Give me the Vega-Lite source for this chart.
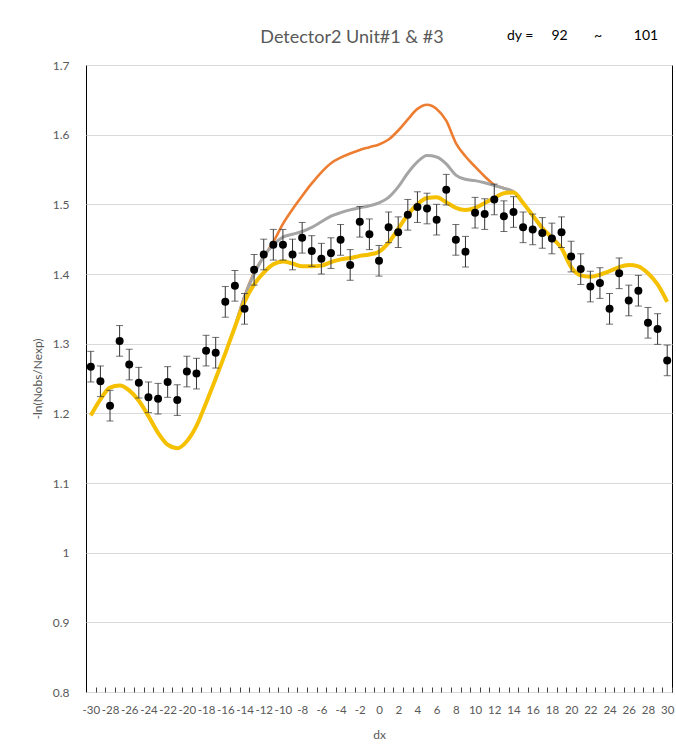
{
  "$schema": "https://vega.github.io/schema/vega-lite/v6.json",
  "width": 586,
  "height": 627,
  "autosize": {"type": "none"},
  "padding": {"left": 86, "top": 65, "right": 4, "bottom": 55},
  "background": "white",
  "title": {"text": "Detector2 Unit#1 & #3", "font": "Lato", "fontSize": 18, "fontWeight": "normal", "color": "#595959", "anchor": "middle", "frame": "group", "dx": -27, "offset": -18},
  "config": {
    "view": {"stroke": "#000", "strokeWidth": 1},
    "axis": {"labelFont": "Lato", "labelColor": "#595959", "titleFont": "Lato", "titleColor": "#595959", "titleFontWeight": "normal", "domain": false, "titleFontSize": 12, "labelFontSize": 12},
    "axisX": {"grid": false, "ticks": true, "tickSize": -5, "tickOffset": 4.8, "labelOffset": -4.8, "tickColor": "#404040", "labelPadding": 17, "labelFontSize": 11.5, "labelOverlap": false, "labelFlush": false, "titlePadding": 14},
    "axisY": {"ticks": false, "grid": true, "gridColor": "#d9d9d9", "gridWidth": 1, "labelPadding": 17, "titlePadding": 8}
  },
  "data": {"values": [
    {"dx": -30, "obs": 1.267, "err": 0.022, "yellow": 1.197, "grey": null, "orange": null},
    {"dx": -29, "obs": 1.246, "err": 0.022, "yellow": 1.220, "grey": null, "orange": null},
    {"dx": -28, "obs": 1.211, "err": 0.022, "yellow": 1.237, "grey": null, "orange": null},
    {"dx": -27, "obs": 1.304, "err": 0.022, "yellow": 1.240, "grey": null, "orange": null},
    {"dx": -26, "obs": 1.270, "err": 0.022, "yellow": 1.233, "grey": null, "orange": null},
    {"dx": -25, "obs": 1.244, "err": 0.022, "yellow": 1.218, "grey": null, "orange": null},
    {"dx": -24, "obs": 1.223, "err": 0.022, "yellow": 1.196, "grey": null, "orange": null},
    {"dx": -23, "obs": 1.221, "err": 0.022, "yellow": 1.172, "grey": null, "orange": null},
    {"dx": -22, "obs": 1.245, "err": 0.022, "yellow": 1.155, "grey": null, "orange": null},
    {"dx": -21, "obs": 1.219, "err": 0.022, "yellow": 1.150, "grey": null, "orange": null},
    {"dx": -20, "obs": 1.260, "err": 0.022, "yellow": 1.160, "grey": null, "orange": null},
    {"dx": -19, "obs": 1.257, "err": 0.022, "yellow": 1.182, "grey": null, "orange": null},
    {"dx": -18, "obs": 1.290, "err": 0.022, "yellow": 1.215, "grey": null, "orange": null},
    {"dx": -17, "obs": 1.287, "err": 0.022, "yellow": 1.250, "grey": null, "orange": null},
    {"dx": -16, "obs": 1.360, "err": 0.022, "yellow": 1.286, "grey": null, "orange": null},
    {"dx": -15, "obs": 1.383, "err": 0.022, "yellow": 1.324, "grey": 1.324, "orange": 1.324},
    {"dx": -14, "obs": 1.350, "err": 0.022, "yellow": 1.360, "grey": 1.367, "orange": 1.368},
    {"dx": -13, "obs": 1.406, "err": 0.022, "yellow": 1.385, "grey": 1.400, "orange": 1.402},
    {"dx": -12, "obs": 1.428, "err": 0.022, "yellow": 1.402, "grey": 1.425, "orange": 1.425},
    {"dx": -11, "obs": 1.442, "err": 0.022, "yellow": 1.414, "grey": 1.442, "orange": 1.446},
    {"dx": -10, "obs": 1.442, "err": 0.022, "yellow": 1.418, "grey": 1.453, "orange": 1.472},
    {"dx": -9, "obs": 1.428, "err": 0.022, "yellow": 1.415, "grey": 1.457, "orange": 1.493},
    {"dx": -8, "obs": 1.452, "err": 0.022, "yellow": 1.411, "grey": 1.461, "orange": 1.512},
    {"dx": -7, "obs": 1.433, "err": 0.022, "yellow": 1.411, "grey": 1.467, "orange": 1.530},
    {"dx": -6, "obs": 1.422, "err": 0.022, "yellow": 1.412, "grey": 1.475, "orange": 1.546},
    {"dx": -5, "obs": 1.430, "err": 0.022, "yellow": 1.417, "grey": 1.483, "orange": 1.559},
    {"dx": -4, "obs": 1.449, "err": 0.022, "yellow": 1.421, "grey": 1.488, "orange": 1.567},
    {"dx": -3, "obs": 1.413, "err": 0.022, "yellow": 1.423, "grey": 1.492, "orange": 1.573},
    {"dx": -2, "obs": 1.475, "err": 0.022, "yellow": 1.426, "grey": 1.495, "orange": 1.578},
    {"dx": -1, "obs": 1.457, "err": 0.022, "yellow": 1.428, "grey": 1.498, "orange": 1.582},
    {"dx": 0, "obs": 1.419, "err": 0.022, "yellow": 1.432, "grey": 1.502, "orange": 1.586},
    {"dx": 1, "obs": 1.467, "err": 0.022, "yellow": 1.445, "grey": 1.510, "orange": 1.593},
    {"dx": 2, "obs": 1.460, "err": 0.022, "yellow": 1.465, "grey": 1.525, "orange": 1.606},
    {"dx": 3, "obs": 1.485, "err": 0.022, "yellow": 1.485, "grey": 1.545, "orange": 1.622},
    {"dx": 4, "obs": 1.496, "err": 0.022, "yellow": 1.500, "grey": 1.561, "orange": 1.637},
    {"dx": 5, "obs": 1.494, "err": 0.022, "yellow": 1.509, "grey": 1.570, "orange": 1.643},
    {"dx": 6, "obs": 1.478, "err": 0.022, "yellow": 1.510, "grey": 1.568, "orange": 1.637},
    {"dx": 7, "obs": 1.521, "err": 0.022, "yellow": 1.503, "grey": 1.558, "orange": 1.620},
    {"dx": 8, "obs": 1.449, "err": 0.022, "yellow": 1.495, "grey": 1.542, "orange": 1.588},
    {"dx": 9, "obs": 1.432, "err": 0.022, "yellow": 1.492, "grey": 1.536, "orange": 1.569},
    {"dx": 10, "obs": 1.488, "err": 0.022, "yellow": 1.495, "grey": 1.534, "orange": 1.554},
    {"dx": 11, "obs": 1.486, "err": 0.022, "yellow": 1.502, "grey": 1.531, "orange": 1.540},
    {"dx": 12, "obs": 1.507, "err": 0.022, "yellow": 1.509, "grey": 1.527, "orange": 1.528},
    {"dx": 13, "obs": 1.483, "err": 0.022, "yellow": 1.516, "grey": 1.523, "orange": 1.523},
    {"dx": 14, "obs": 1.489, "err": 0.022, "yellow": 1.517, "grey": 1.518, "orange": 1.518},
    {"dx": 15, "obs": 1.467, "err": 0.022, "yellow": 1.502, "grey": 1.502, "orange": 1.502},
    {"dx": 16, "obs": 1.464, "err": 0.022, "yellow": 1.484, "grey": null, "orange": null},
    {"dx": 17, "obs": 1.459, "err": 0.022, "yellow": 1.466, "grey": null, "orange": null},
    {"dx": 18, "obs": 1.451, "err": 0.022, "yellow": 1.452, "grey": null, "orange": null},
    {"dx": 19, "obs": 1.460, "err": 0.022, "yellow": 1.437, "grey": null, "orange": null},
    {"dx": 20, "obs": 1.425, "err": 0.022, "yellow": 1.410, "grey": null, "orange": null},
    {"dx": 21, "obs": 1.407, "err": 0.022, "yellow": 1.398, "grey": null, "orange": null},
    {"dx": 22, "obs": 1.382, "err": 0.022, "yellow": 1.396, "grey": null, "orange": null},
    {"dx": 23, "obs": 1.387, "err": 0.022, "yellow": 1.399, "grey": null, "orange": null},
    {"dx": 24, "obs": 1.350, "err": 0.022, "yellow": 1.404, "grey": null, "orange": null},
    {"dx": 25, "obs": 1.401, "err": 0.022, "yellow": 1.410, "grey": null, "orange": null},
    {"dx": 26, "obs": 1.362, "err": 0.022, "yellow": 1.413, "grey": null, "orange": null},
    {"dx": 27, "obs": 1.376, "err": 0.022, "yellow": 1.411, "grey": null, "orange": null},
    {"dx": 28, "obs": 1.330, "err": 0.022, "yellow": 1.401, "grey": null, "orange": null},
    {"dx": 29, "obs": 1.321, "err": 0.022, "yellow": 1.385, "grey": null, "orange": null},
    {"dx": 30, "obs": 1.276, "err": 0.022, "yellow": 1.360, "grey": null, "orange": null}
  ]},
  "layer": [
    {
      "mark": {"type": "line", "color": "#ED7D31", "strokeWidth": 2.6, "interpolate": "monotone"},
      "encoding": {
        "x": {"field": "dx", "type": "quantitative", "scale": {"domain": [-30.5, 30.5], "nice": false, "zero": false},
          "axis": {"values": [-30,-29,-28,-27,-26,-25,-24,-23,-22,-21,-20,-19,-18,-17,-16,-15,-14,-13,-12,-11,-10,-9,-8,-7,-6,-5,-4,-3,-2,-1,0,1,2,3,4,5,6,7,8,9,10,11,12,13,14,15,16,17,18,19,20,21,22,23,24,25,26,27,28,29,30],
            "labelExpr": "datum.value % 2 === 0 ? '' + datum.value : ''", "title": "dx"}},
        "y": {"field": "orange", "type": "quantitative", "scale": {"domain": [0.8, 1.7], "nice": false, "zero": false},
          "axis": {"values": [0.8,0.9,1.0,1.1,1.2,1.3,1.4,1.5,1.6,1.7], "format": ".1~f", "title": "-ln(Nobs/Nexp)"}}
      }
    },
    {
      "mark": {"type": "line", "color": "#A5A5A5", "strokeWidth": 3, "interpolate": "monotone"},
      "encoding": {
        "x": {"field": "dx", "type": "quantitative", "scale": {"domain": [-30.5, 30.5], "nice": false, "zero": false},
          "axis": {"values": [-30,-29,-28,-27,-26,-25,-24,-23,-22,-21,-20,-19,-18,-17,-16,-15,-14,-13,-12,-11,-10,-9,-8,-7,-6,-5,-4,-3,-2,-1,0,1,2,3,4,5,6,7,8,9,10,11,12,13,14,15,16,17,18,19,20,21,22,23,24,25,26,27,28,29,30],
            "labelExpr": "datum.value % 2 === 0 ? '' + datum.value : ''", "title": "dx"}},
        "y": {"field": "grey", "type": "quantitative", "scale": {"domain": [0.8, 1.7], "nice": false, "zero": false},
          "axis": {"values": [0.8,0.9,1.0,1.1,1.2,1.3,1.4,1.5,1.6,1.7], "format": ".1~f", "title": "-ln(Nobs/Nexp)"}}
      }
    },
    {
      "mark": {"type": "line", "color": "#F5C000", "strokeWidth": 4, "interpolate": "monotone"},
      "encoding": {
        "x": {"field": "dx", "type": "quantitative", "scale": {"domain": [-30.5, 30.5], "nice": false, "zero": false},
          "axis": {"values": [-30,-29,-28,-27,-26,-25,-24,-23,-22,-21,-20,-19,-18,-17,-16,-15,-14,-13,-12,-11,-10,-9,-8,-7,-6,-5,-4,-3,-2,-1,0,1,2,3,4,5,6,7,8,9,10,11,12,13,14,15,16,17,18,19,20,21,22,23,24,25,26,27,28,29,30],
            "labelExpr": "datum.value % 2 === 0 ? '' + datum.value : ''", "title": "dx"}},
        "y": {"field": "yellow", "type": "quantitative", "scale": {"domain": [0.8, 1.7], "nice": false, "zero": false},
          "axis": {"values": [0.8,0.9,1.0,1.1,1.2,1.3,1.4,1.5,1.6,1.7], "format": ".1~f", "title": "-ln(Nobs/Nexp)"}}
      }
    },
    {
      "mark": {"type": "errorbar", "ticks": {"size": 7}, "color": "#333333", "thickness": 1},
      "encoding": {
        "x": {"field": "dx", "type": "quantitative", "scale": {"domain": [-30.5, 30.5], "nice": false, "zero": false},
          "axis": {"values": [-30,-29,-28,-27,-26,-25,-24,-23,-22,-21,-20,-19,-18,-17,-16,-15,-14,-13,-12,-11,-10,-9,-8,-7,-6,-5,-4,-3,-2,-1,0,1,2,3,4,5,6,7,8,9,10,11,12,13,14,15,16,17,18,19,20,21,22,23,24,25,26,27,28,29,30],
            "labelExpr": "datum.value % 2 === 0 ? '' + datum.value : ''", "title": "dx"}},
        "y": {"field": "obs", "type": "quantitative", "scale": {"domain": [0.8, 1.7], "nice": false, "zero": false},
          "axis": {"values": [0.8,0.9,1.0,1.1,1.2,1.3,1.4,1.5,1.6,1.7], "format": ".1~f", "title": "-ln(Nobs/Nexp)"}},
        "yError": {"field": "err"}
      }
    },
    {
      "mark": {"type": "circle", "color": "#000", "size": 64, "opacity": 1},
      "encoding": {
        "x": {"field": "dx", "type": "quantitative", "scale": {"domain": [-30.5, 30.5], "nice": false, "zero": false},
          "axis": {"values": [-30,-29,-28,-27,-26,-25,-24,-23,-22,-21,-20,-19,-18,-17,-16,-15,-14,-13,-12,-11,-10,-9,-8,-7,-6,-5,-4,-3,-2,-1,0,1,2,3,4,5,6,7,8,9,10,11,12,13,14,15,16,17,18,19,20,21,22,23,24,25,26,27,28,29,30],
            "labelExpr": "datum.value % 2 === 0 ? '' + datum.value : ''", "title": "dx"}},
        "y": {"field": "obs", "type": "quantitative", "scale": {"domain": [0.8, 1.7], "nice": false, "zero": false},
          "axis": {"values": [0.8,0.9,1.0,1.1,1.2,1.3,1.4,1.5,1.6,1.7], "format": ".1~f", "title": "-ln(Nobs/Nexp)"}}
      }
    },
    {
      "data": {"values": [{}]},
      "mark": {"type": "text", "text": "dy =", "font": "Lato", "fontSize": 14, "color": "#000"},
      "encoding": {
        "x": {"datum": 14.7, "type": "quantitative", "scale": {"domain": [-30.5, 30.5], "nice": false, "zero": false},
          "axis": {"values": [-30,-29,-28,-27,-26,-25,-24,-23,-22,-21,-20,-19,-18,-17,-16,-15,-14,-13,-12,-11,-10,-9,-8,-7,-6,-5,-4,-3,-2,-1,0,1,2,3,4,5,6,7,8,9,10,11,12,13,14,15,16,17,18,19,20,21,22,23,24,25,26,27,28,29,30],
            "labelExpr": "datum.value % 2 === 0 ? '' + datum.value : ''", "title": "dx"}},
        "y": {"datum": 1.741, "type": "quantitative", "scale": {"domain": [0.8, 1.7], "nice": false, "zero": false},
          "axis": {"values": [0.8,0.9,1.0,1.1,1.2,1.3,1.4,1.5,1.6,1.7], "format": ".1~f", "title": "-ln(Nobs/Nexp)"}}
      }
    },
    {
      "data": {"values": [{}]},
      "mark": {"type": "text", "text": "92", "font": "Lato", "fontSize": 14, "color": "#000"},
      "encoding": {
        "x": {"datum": 18.8, "type": "quantitative", "scale": {"domain": [-30.5, 30.5], "nice": false, "zero": false},
          "axis": {"values": [-30,-29,-28,-27,-26,-25,-24,-23,-22,-21,-20,-19,-18,-17,-16,-15,-14,-13,-12,-11,-10,-9,-8,-7,-6,-5,-4,-3,-2,-1,0,1,2,3,4,5,6,7,8,9,10,11,12,13,14,15,16,17,18,19,20,21,22,23,24,25,26,27,28,29,30],
            "labelExpr": "datum.value % 2 === 0 ? '' + datum.value : ''", "title": "dx"}},
        "y": {"datum": 1.741, "type": "quantitative", "scale": {"domain": [0.8, 1.7], "nice": false, "zero": false},
          "axis": {"values": [0.8,0.9,1.0,1.1,1.2,1.3,1.4,1.5,1.6,1.7], "format": ".1~f", "title": "-ln(Nobs/Nexp)"}}
      }
    },
    {
      "data": {"values": [{}]},
      "mark": {"type": "text", "text": "~", "font": "Lato", "fontSize": 14, "color": "#000"},
      "encoding": {
        "x": {"datum": 22.8, "type": "quantitative", "scale": {"domain": [-30.5, 30.5], "nice": false, "zero": false},
          "axis": {"values": [-30,-29,-28,-27,-26,-25,-24,-23,-22,-21,-20,-19,-18,-17,-16,-15,-14,-13,-12,-11,-10,-9,-8,-7,-6,-5,-4,-3,-2,-1,0,1,2,3,4,5,6,7,8,9,10,11,12,13,14,15,16,17,18,19,20,21,22,23,24,25,26,27,28,29,30],
            "labelExpr": "datum.value % 2 === 0 ? '' + datum.value : ''", "title": "dx"}},
        "y": {"datum": 1.741, "type": "quantitative", "scale": {"domain": [0.8, 1.7], "nice": false, "zero": false},
          "axis": {"values": [0.8,0.9,1.0,1.1,1.2,1.3,1.4,1.5,1.6,1.7], "format": ".1~f", "title": "-ln(Nobs/Nexp)"}}
      }
    },
    {
      "data": {"values": [{}]},
      "mark": {"type": "text", "text": "101", "font": "Lato", "fontSize": 14, "color": "#000"},
      "encoding": {
        "x": {"datum": 27.8, "type": "quantitative", "scale": {"domain": [-30.5, 30.5], "nice": false, "zero": false},
          "axis": {"values": [-30,-29,-28,-27,-26,-25,-24,-23,-22,-21,-20,-19,-18,-17,-16,-15,-14,-13,-12,-11,-10,-9,-8,-7,-6,-5,-4,-3,-2,-1,0,1,2,3,4,5,6,7,8,9,10,11,12,13,14,15,16,17,18,19,20,21,22,23,24,25,26,27,28,29,30],
            "labelExpr": "datum.value % 2 === 0 ? '' + datum.value : ''", "title": "dx"}},
        "y": {"datum": 1.741, "type": "quantitative", "scale": {"domain": [0.8, 1.7], "nice": false, "zero": false},
          "axis": {"values": [0.8,0.9,1.0,1.1,1.2,1.3,1.4,1.5,1.6,1.7], "format": ".1~f", "title": "-ln(Nobs/Nexp)"}}
      }
    }
  ]
}
